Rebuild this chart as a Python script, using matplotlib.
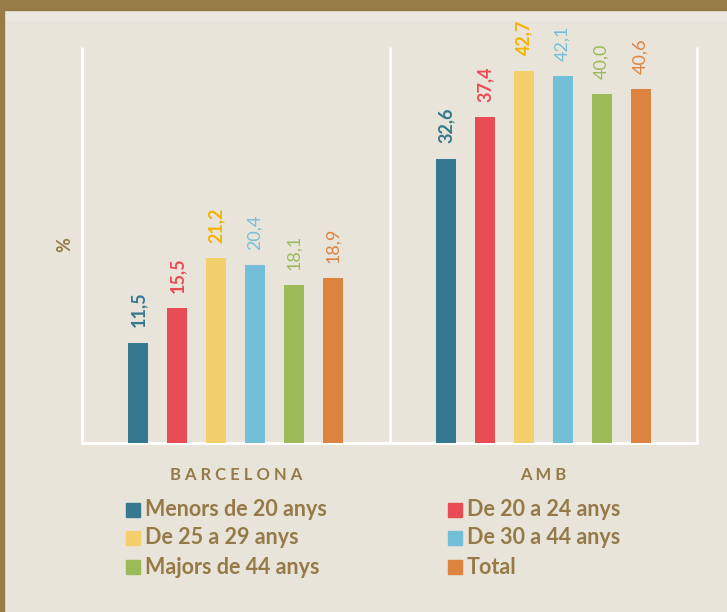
import numpy as np
import matplotlib.pyplot as plt
from matplotlib.patches import Rectangle

plt.rcParams['font.family'] = ['Lato', 'DejaVu Sans']

# Data
groups = ["BARCELONA", "AMB"]
series = ["Menors de 20 anys", "De 20 a 24 anys", "De 25 a 29 anys",
          "De 30 a 44 anys", "Majors de 44 anys", "Total"]
barcelona = [11.5, 15.5, 21.2, 20.4, 18.1, 18.9]
amb = [32.6, 37.4, 42.7, 42.1, 40.0, 40.6]

bar_colors = ["#35788f", "#e84c55", "#f3d06c", "#74bfd8", "#9bbb59", "#dd8340"]
label_colors = ["#35788f", "#e84c55", "#f5b400", "#74bfd8", "#9bbb59", "#dd8340"]
label_bold = [True, True, True, False, False, False]

bg = "#e8e4da"
brown = "#957a47"

W, H = 727, 612
fig = plt.figure(figsize=(W / 100, H / 100), dpi=100)
fig.patch.set_facecolor(bg)

# Header bar and left border
fig.patches.append(Rectangle((0, 1 - 10 / H), 1, 10 / H, transform=fig.transFigure,
                             color="#977b46", zorder=5))
fig.patches.append(Rectangle((0, 1 - 20 / H), 1, 10 / H, transform=fig.transFigure,
                             color="#ece8df", zorder=1))
fig.patches.append(Rectangle((0, 0), 4 / W, 1, transform=fig.transFigure,
                             color="#977b46", zorder=5))

ax = fig.add_axes([82 / W, (H - 443) / H, (697 - 82) / W, (443 - 47) / H])
ax.set_facecolor(bg)
ymax = 45.4
ax.set_xlim(0, 2)
ax.set_ylim(0, ymax)
for s in ax.spines.values():
    s.set_visible(False)
ax.set_xticks([])
ax.set_yticks([])

# separators and baseline
for xv in [0, 1, 2]:
    ax.plot([xv, xv], [0, ymax], color="white", lw=2, solid_capstyle="butt", clip_on=False)
ax.plot([0, 2], [0, 0], color="white", lw=2, clip_on=False)

pitch = 39 / 307.5
width = 20 / 307.5
for g, vals in enumerate([barcelona, amb]):
    for k, v in enumerate(vals):
        xc = g + 0.5 + (k - 2.5) * pitch
        ax.bar(xc, v, width=width, color=bar_colors[k], zorder=3)
        ax.annotate(f"{v:.1f}".replace(".", ","), (xc, v), xytext=(0, 11),
                    textcoords="offset points", rotation=90, ha="center", va="bottom",
                    color=label_colors[k], fontsize=13,
                    fontweight="bold" if label_bold[k] else "normal")
    ax.text(g + 0.5, -0.08, " ".join(groups[g]), transform=ax.get_xaxis_transform(),
            ha="center", va="center", fontsize=12, fontweight="bold", color=brown)

fig.text(65 / W, 1 - 245 / H, "%", rotation=90, ha="center", va="center",
         fontsize=13, fontweight="bold", color=brown)

# Legend
col_x = [126, 448]
row_y = [510, 538, 567]
sq = 14
for i, name in enumerate(series):
    c, r = i % 2, i // 2
    x0, yc = col_x[c], row_y[r]
    fig.patches.append(Rectangle((x0 / W, (H - yc - sq / 2) / H), sq / W, sq / H,
                                 transform=fig.transFigure, color=bar_colors[i]))
    fig.text((x0 + sq + 5) / W, (H - yc) / H, name, ha="left", va="center",
             fontsize=15.5, fontweight="bold", color=brown)

fig.savefig("out.png", dpi=100, facecolor=bg)
